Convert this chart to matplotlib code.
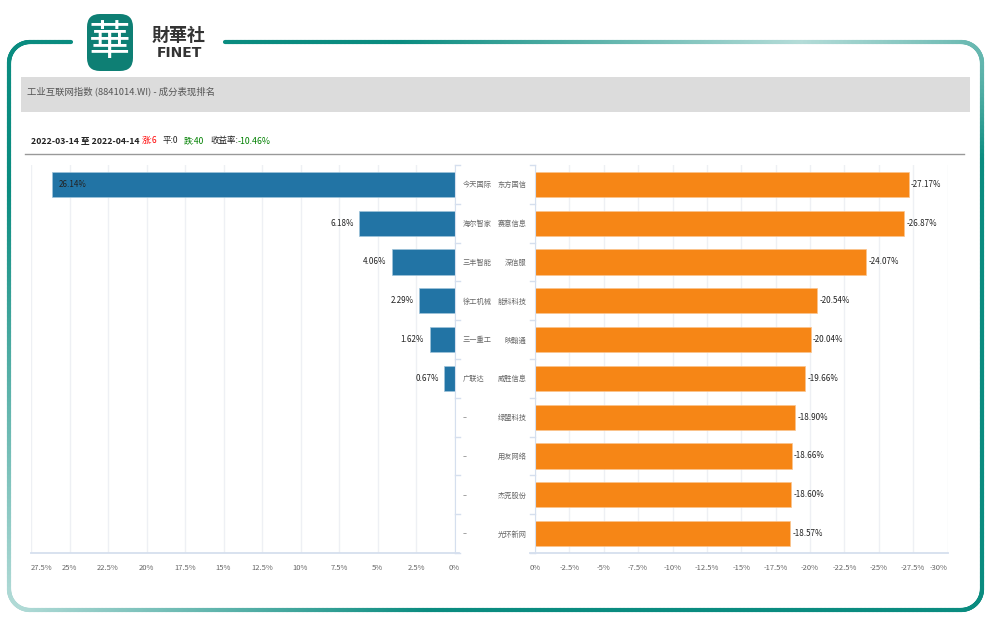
import numpy as np
import matplotlib
matplotlib.use('Agg')
import matplotlib.pyplot as plt
from matplotlib.collections import LineCollection
from matplotlib.patches import FancyBboxPatch, Rectangle
from matplotlib.colors import to_rgb

plt.rcParams['font.family'] = ['Noto Sans CJK SC', 'DejaVu Sans']

W, H = 997, 628

# chart values
up_names = ['今天国际', '海尔智家', '三丰智能', '徐工机械', '三一重工', '广联达', '--', '--', '--', '--']
up_values = [26.14, 6.18, 4.06, 2.29, 1.62, 0.67]
down_names = ['东方国信', '赛意信息', '深信服', '能科科技', '映翰通', '威胜信息', '绿盟科技', '用友网络', '杰克股份', '光环新网']
down_values = [-27.17, -26.87, -24.07, -20.54, -20.04, -19.66, -18.90, -18.66, -18.60, -18.57]
up_ticks = [27.5, 25, 22.5, 20, 17.5, 15, 12.5, 10, 7.5, 5, 2.5, 0]
down_ticks = [0, -2.5, -5, -7.5, -10, -12.5, -15, -17.5, -20, -22.5, -25, -27.5, -30]

BLUE = '#2274a5'
ORANGE = '#f68616'
TEAL = '#0a8c80'
GRID = '#eef0f4'
AXIS = '#d5dfee'
GRAY = '#666666'


def px_axes(x0, y0, x1, y1):
    return fig.add_axes([x0 / W, 1 - y1 / H, (x1 - x0) / W, (y1 - y0) / H])


def fmt(v):
    return f'{v:g}%'


def style_axes(ax):
    for s in ['top', 'left', 'right', 'bottom']:
        ax.spines[s].set_visible(False)
    ax.spines['bottom'].set_visible(True)
    ax.spines['bottom'].set_color(AXIS)
    ax.spines['bottom'].set_linewidth(1.3)
    ax.set_ylim(9.5, -0.5)
    ax.set_yticks(range(10))
    ax.set_axisbelow(True)
    ax.grid(axis='x', color=GRID, lw=1)
    ax.tick_params(axis='x', length=0, pad=8, labelsize=5.5, labelcolor=GRAY)
    ax.tick_params(axis='y', length=0, labelsize=5.2, labelcolor=GRAY)
    ax.patch.set_alpha(0)


def band_ticks(ax, x_from, x_to):
    # little marks between the categories, on the inner side of the axis
    for i in range(11):
        y = i - 0.5
        ax.plot([x_from, x_to], [y, y], color=AXIS, lw=1, clip_on=False,
                transform=ax.get_yaxis_transform())


fig = plt.figure(figsize=(W / 100, H / 100), dpi=100)

# page furniture in pixel coordinates
bg = fig.add_axes([0, 0, 1, 1])
bg.set_xlim(0, W)
bg.set_ylim(H, 0)
bg.axis('off')

# frame outline, running clockwise from the gap right of the logo
x0, y0, x1, y1, r = 9, 42, 982, 610, 21
t = np.linspace(0, np.pi / 2, 20)
path = [(225, y0), (x1 - r, y0)]
path += [(x1 - r + r * np.sin(a), y0 + r - r * np.cos(a)) for a in t]
path += [(x1, y1 - r)]
path += [(x1 - r + r * np.cos(a), y1 - r + r * np.sin(a)) for a in t]
path += [(x0 + r, y1)]
path += [(x0 + r - r * np.sin(a), y1 - r + r * np.cos(a)) for a in t]
path += [(x0, y0 + r)]
path += [(x0 + r - r * np.cos(a), y0 + r - r * np.sin(a)) for a in t]
path += [(75, y0)]
pts = []
for a, b in zip(path[:-1], path[1:]):
    n = max(2, int(np.hypot(b[0] - a[0], b[1] - a[1]) / 4))
    pts += [(a[0] + (b[0] - a[0]) * k / n, a[1] + (b[1] - a[1]) * k / n) for k in range(n)]
pts = np.array(pts)
light = np.array(to_rgb('#b4dcd8'))
dark = np.array(to_rgb(TEAL))
# fades towards the bottom left corner and along the top right
d1 = np.clip(np.hypot((pts[:, 0] - x0) / 420, (pts[:, 1] - y1) / 420), 0, 1)
d2 = np.clip(np.hypot((pts[:, 0] - 800) / 400, (pts[:, 1] - y0) / 130), 0, 1)
d = np.minimum(d1, d2)
cols = light + (dark - light) * d[:, None]
segs = np.stack([pts[:-1], pts[1:]], axis=1)
bg.add_collection(LineCollection(segs, colors=cols[:-1], linewidths=3, capstyle='round'))

# logo
bg.add_patch(FancyBboxPatch((87, 14), 46, 57, boxstyle='round,pad=0,rounding_size=13', fc='#0e7f74', ec='none'))
bg.text(110, 43, '華', color='white', fontsize=30, ha='center', va='center')
bg.text(179, 35, '財華社', color='#333333', fontsize=13, ha='center', va='center', fontweight='bold')
bg.text(179, 53, 'FINET', color='#333333', fontsize=10, ha='center', va='center', fontweight='bold',
        family=['DejaVu Sans'])

# header
bg.add_patch(Rectangle((21, 77), 949, 35, fc='#dcdcdc', ec='none'))
bg.text(27, 91, '工业互联网指数 (8841014.WI) - 成分表现排名', color='#555555', fontsize=6.75, va='center')

# summary row
row_y = 141
bg.text(31, row_y, '2022-03-14 至 2022-04-14', color='#222222', fontsize=6.3, va='center', fontweight='bold')
bg.text(142, row_y, '涨:6', color='red', fontsize=6.1, va='center')
bg.text(163, row_y, '平:0', color='#222222', fontsize=6.1, va='center')
bg.text(184, row_y, '跌:40', color='green', fontsize=6.1, va='center')
bg.text(210, row_y, '收益率:', color='#222222', fontsize=6.1, va='center')
bg.text(238, row_y, '-10.46%', color='green', fontsize=6.3, va='center')
bg.plot([25, 964], [153.5, 153.5], color='#999999', lw=1)

# left side
ax_l = px_axes(31, 165, 454.5, 553)
style_axes(ax_l)
ax_l.barh(range(len(up_values)), up_values, height=0.645, color=BLUE, edgecolor='#9fc4da', linewidth=0.5)
ax_l.set_xlim(27.5, 0)
ax_l.set_xticks(up_ticks)
ax_l.set_xticklabels([fmt(v) for v in up_ticks])
ax_l.get_xticklabels()[0].set_ha('left')
ax_l.yaxis.tick_right()
ax_l.tick_params(axis='y', pad=6)
ax_l.set_yticklabels(up_names, ha='left')
ax_l.spines['right'].set_visible(True)
ax_l.spines['right'].set_color(AXIS)
ax_l.spines['bottom'].set_bounds(27.5, -0.3)
band_ticks(ax_l, 1, 1 + 5 / 423.5)
for i, v in enumerate(up_values):
    if v > 20:
        ax_l.text(v - 0.45, i, f'{v:.2f}%', fontsize=5.8, color='#222222', va='center', ha='left')
    else:
        ax_l.text(v + 0.35, i, f'{v:.2f}%', fontsize=5.8, color='#222222', va='center', ha='right')

# right side
ax_r = px_axes(535, 165, 947.5, 553)
style_axes(ax_r)
ax_r.barh(range(len(down_values)), down_values, height=0.645, color=ORANGE, edgecolor='#fbc48e', linewidth=0.5)
ax_r.set_xlim(0, -30)
ax_r.set_xticks(down_ticks)
ax_r.set_xticklabels([fmt(v) for v in down_ticks])
ax_r.get_xticklabels()[-1].set_ha('right')
ax_r.tick_params(axis='y', pad=6)
ax_r.set_yticklabels(down_names, ha='right')
ax_r.spines['left'].set_visible(True)
ax_r.spines['left'].set_color(AXIS)
ax_r.spines['bottom'].set_bounds(0.35, -30)
band_ticks(ax_r, -5 / 412.5, 0)
for i, v in enumerate(down_values):
    ax_r.text(v - 0.18, i, f'{v:.2f}%', fontsize=5.8, color='#222222', va='center', ha='left')

fig.savefig('out.png', dpi=100)
